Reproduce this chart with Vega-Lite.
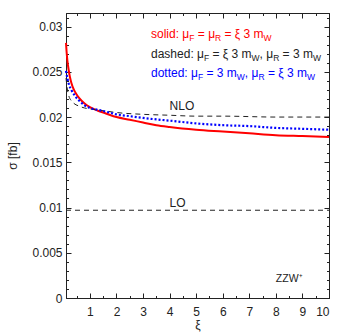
{
  "$schema": "https://vega.github.io/schema/vega-lite/v6.json",
  "width": 263,
  "height": 285,
  "autosize": "none",
  "padding": {"left": 66, "top": 13, "right": 18, "bottom": 37},
  "background": "white",
  "config": {
    "view": {"stroke": "#222", "strokeWidth": 1},
    "axis": {
      "labelFont": "Liberation Sans",
      "titleFont": "Liberation Sans",
      "labelFontSize": 12,
      "titleFontSize": 12,
      "labelColor": "#222",
      "titleColor": "#222",
      "titleFontWeight": "normal",
      "domainColor": "#222",
      "tickColor": "#222",
      "tickWidth": 1,
      "grid": false
    },
    "text": {"font": "Liberation Sans"}
  },
  "datasets": {
    "curves": [
      {"series": "solid", "xi": 0.1, "sigma": 0.0282},
      {"series": "solid", "xi": 0.12, "sigma": 0.0273},
      {"series": "solid", "xi": 0.15, "sigma": 0.0263},
      {"series": "solid", "xi": 0.2, "sigma": 0.0252},
      {"series": "solid", "xi": 0.25, "sigma": 0.0244},
      {"series": "solid", "xi": 0.3, "sigma": 0.0238},
      {"series": "solid", "xi": 0.4, "sigma": 0.0230},
      {"series": "solid", "xi": 0.5, "sigma": 0.0225},
      {"series": "solid", "xi": 0.6, "sigma": 0.0221},
      {"series": "solid", "xi": 0.8, "sigma": 0.0215},
      {"series": "solid", "xi": 1.0, "sigma": 0.0211},
      {"series": "solid", "xi": 1.3, "sigma": 0.0207},
      {"series": "solid", "xi": 1.6, "sigma": 0.0204},
      {"series": "solid", "xi": 2.0, "sigma": 0.0200},
      {"series": "solid", "xi": 2.5, "sigma": 0.0197},
      {"series": "solid", "xi": 3.0, "sigma": 0.0194},
      {"series": "solid", "xi": 3.5, "sigma": 0.0191},
      {"series": "solid", "xi": 4.0, "sigma": 0.0189},
      {"series": "solid", "xi": 5.0, "sigma": 0.0186},
      {"series": "solid", "xi": 6.0, "sigma": 0.0184},
      {"series": "solid", "xi": 7.0, "sigma": 0.0182},
      {"series": "solid", "xi": 8.0, "sigma": 0.0180},
      {"series": "solid", "xi": 9.0, "sigma": 0.0179},
      {"series": "solid", "xi": 10.0, "sigma": 0.0178},
      {"series": "dotted", "xi": 0.1, "sigma": 0.0251},
      {"series": "dotted", "xi": 0.15, "sigma": 0.0243},
      {"series": "dotted", "xi": 0.2, "sigma": 0.0237},
      {"series": "dotted", "xi": 0.3, "sigma": 0.0230},
      {"series": "dotted", "xi": 0.4, "sigma": 0.0225},
      {"series": "dotted", "xi": 0.5, "sigma": 0.0221},
      {"series": "dotted", "xi": 0.6, "sigma": 0.0218},
      {"series": "dotted", "xi": 0.8, "sigma": 0.0213},
      {"series": "dotted", "xi": 1.0, "sigma": 0.0210},
      {"series": "dotted", "xi": 1.3, "sigma": 0.0208},
      {"series": "dotted", "xi": 1.6, "sigma": 0.0206},
      {"series": "dotted", "xi": 2.0, "sigma": 0.0203},
      {"series": "dotted", "xi": 2.5, "sigma": 0.0201},
      {"series": "dotted", "xi": 3.0, "sigma": 0.0199},
      {"series": "dotted", "xi": 4.0, "sigma": 0.0196},
      {"series": "dotted", "xi": 5.0, "sigma": 0.0193},
      {"series": "dotted", "xi": 6.0, "sigma": 0.0191},
      {"series": "dotted", "xi": 7.0, "sigma": 0.0190},
      {"series": "dotted", "xi": 8.0, "sigma": 0.0188},
      {"series": "dotted", "xi": 9.0, "sigma": 0.0187},
      {"series": "dotted", "xi": 10.0, "sigma": 0.0186},
      {"series": "dashed", "xi": 0.1, "sigma": 0.0243},
      {"series": "dashed", "xi": 0.15, "sigma": 0.0231},
      {"series": "dashed", "xi": 0.2, "sigma": 0.0224},
      {"series": "dashed", "xi": 0.3, "sigma": 0.0218},
      {"series": "dashed", "xi": 0.4, "sigma": 0.0215},
      {"series": "dashed", "xi": 0.6, "sigma": 0.0212},
      {"series": "dashed", "xi": 0.8, "sigma": 0.0210},
      {"series": "dashed", "xi": 1.0, "sigma": 0.0209},
      {"series": "dashed", "xi": 1.5, "sigma": 0.0207},
      {"series": "dashed", "xi": 2.0, "sigma": 0.0205},
      {"series": "dashed", "xi": 3.0, "sigma": 0.0203},
      {"series": "dashed", "xi": 4.0, "sigma": 0.0202},
      {"series": "dashed", "xi": 5.0, "sigma": 0.0201},
      {"series": "dashed", "xi": 6.0, "sigma": 0.0201},
      {"series": "dashed", "xi": 8.0, "sigma": 0.0200},
      {"series": "dashed", "xi": 10.0, "sigma": 0.0200},
      {"series": "LO", "xi": 0.1, "sigma": 0.0097},
      {"series": "LO", "xi": 10.0, "sigma": 0.0097}
    ],
    "legend": [
      {"line": "solid", "kind": "m", "text": "solid: μ", "xi": 3.300, "sigma": 0.0287},
      {"line": "solid", "kind": "s", "text": "F", "xi": 4.740, "sigma": 0.0287},
      {"line": "solid", "kind": "m", "text": "= μ", "xi": 5.061, "sigma": 0.0287},
      {"line": "solid", "kind": "s", "text": "R", "xi": 5.710, "sigma": 0.0287},
      {"line": "solid", "kind": "m", "text": "= ξ 3 m", "xi": 6.067, "sigma": 0.0287},
      {"line": "solid", "kind": "s", "text": "W", "xi": 7.537, "sigma": 0.0287},
      {"line": "dashed", "kind": "m", "text": "dashed: μ", "xi": 3.300, "sigma": 0.02658},
      {"line": "dashed", "kind": "s", "text": "F", "xi": 5.292, "sigma": 0.02658},
      {"line": "dashed", "kind": "m", "text": "= ξ 3 m", "xi": 5.614, "sigma": 0.02658},
      {"line": "dashed", "kind": "s", "text": "W", "xi": 7.084, "sigma": 0.02658},
      {"line": "dashed", "kind": "m", "text": ", μ", "xi": 7.385, "sigma": 0.02658},
      {"line": "dashed", "kind": "s", "text": "R", "xi": 7.897, "sigma": 0.02658},
      {"line": "dashed", "kind": "m", "text": "= 3 m", "xi": 8.254, "sigma": 0.02658},
      {"line": "dashed", "kind": "s", "text": "W", "xi": 9.395, "sigma": 0.02658},
      {"line": "dotted", "kind": "m", "text": "dotted: μ", "xi": 3.300, "sigma": 0.02446},
      {"line": "dotted", "kind": "s", "text": "F", "xi": 5.067, "sigma": 0.02446},
      {"line": "dotted", "kind": "m", "text": "= 3 m", "xi": 5.388, "sigma": 0.02446},
      {"line": "dotted", "kind": "s", "text": "W", "xi": 6.530, "sigma": 0.02446},
      {"line": "dotted", "kind": "m", "text": ", μ", "xi": 6.831, "sigma": 0.02446},
      {"line": "dotted", "kind": "s", "text": "R", "xi": 7.343, "sigma": 0.02446},
      {"line": "dotted", "kind": "m", "text": "= ξ 3 m", "xi": 7.700, "sigma": 0.02446},
      {"line": "dotted", "kind": "s", "text": "W", "xi": 9.169, "sigma": 0.02446}
    ],
    "notes": [
      {"text": "NLO", "xi": 4.0, "sigma": 0.0208, "size": "big"},
      {"text": "LO", "xi": 4.0, "sigma": 0.0101, "size": "big"},
      {"text": "ZZW⁺", "xi": 8.0, "sigma": 0.0018, "size": "small"}
    ]
  },
  "resolve": {"axis": {"x": "independent", "y": "independent"}},
  "layer": [
    {
      "data": {"name": "curves"},
      "transform": [{"filter": "datum.series === 'solid'"}],
      "mark": {"type": "line", "color": "#ff0000", "strokeWidth": 2, "interpolate": "monotone"},
      "encoding": {
        "x": {"field": "xi", "type": "quantitative", "scale": {"domain": [0.1, 10], "nice": false},
          "axis": {"orient": "bottom", "values": [1, 2, 3, 4, 5, 6, 7, 8, 9, 10], "format": "d", "tickSize": -5, "labelPadding": 13, "title": "ξ", "titlePadding": 2}},
        "y": {"field": "sigma", "type": "quantitative", "scale": {"domain": [0, 0.0315], "nice": false, "zero": false},
          "axis": {"orient": "left", "values": [0, 0.005, 0.01, 0.015, 0.02, 0.025, 0.03], "format": ".3~f", "tickSize": -5, "labelPadding": 9, "title": "σ [fb]", "titlePadding": 12}}
      }
    },
    {
      "data": {"name": "curves"},
      "transform": [{"filter": "datum.series === 'dashed'"}],
      "mark": {"type": "line", "color": "#222", "strokeWidth": 1, "strokeDash": [5, 4], "interpolate": "monotone"},
      "encoding": {
        "x": {"field": "xi", "type": "quantitative",
          "axis": {"orient": "top", "values": [1, 2, 3, 4, 5, 6, 7, 8, 9, 10], "labels": false, "tickSize": -5, "title": null}},
        "y": {"field": "sigma", "type": "quantitative",
          "axis": {"orient": "right", "values": [0, 0.005, 0.01, 0.015, 0.02, 0.025, 0.03], "labels": false, "tickSize": -5, "title": null}}
      }
    },
    {
      "data": {"name": "curves"},
      "transform": [{"filter": "datum.series === 'dotted'"}],
      "mark": {"type": "line", "color": "#0000ff", "strokeWidth": 2.2, "strokeDash": [2, 2], "interpolate": "monotone"},
      "encoding": {
        "x": {"field": "xi", "type": "quantitative",
          "axis": {"orient": "bottom", "values": [0.5, 1.5, 2.5, 3.5, 4.5, 5.5, 6.5, 7.5, 8.5, 9.5], "labels": false, "domain": false, "tickSize": -2.5, "title": null}},
        "y": {"field": "sigma", "type": "quantitative",
          "axis": {"orient": "left", "values": [0.001, 0.002, 0.003, 0.004, 0.006, 0.007, 0.008, 0.009, 0.011, 0.012, 0.013, 0.014, 0.016, 0.017, 0.018, 0.019, 0.021, 0.022, 0.023, 0.024, 0.026, 0.027, 0.028, 0.029, 0.031], "labels": false, "domain": false, "tickSize": -2.5, "title": null}}
      }
    },
    {
      "data": {"name": "curves"},
      "transform": [{"filter": "datum.series === 'LO'"}],
      "mark": {"type": "line", "color": "#222", "strokeWidth": 1, "strokeDash": [5, 4]},
      "encoding": {
        "x": {"field": "xi", "type": "quantitative",
          "axis": {"orient": "top", "values": [0.5, 1.5, 2.5, 3.5, 4.5, 5.5, 6.5, 7.5, 8.5, 9.5], "labels": false, "domain": false, "tickSize": -2.5, "title": null}},
        "y": {"field": "sigma", "type": "quantitative",
          "axis": {"orient": "right", "values": [0.001, 0.002, 0.003, 0.004, 0.006, 0.007, 0.008, 0.009, 0.011, 0.012, 0.013, 0.014, 0.016, 0.017, 0.018, 0.019, 0.021, 0.022, 0.023, 0.024, 0.026, 0.027, 0.028, 0.029, 0.031], "labels": false, "domain": false, "tickSize": -2.5, "title": null}}
      }
    },
    {
      "data": {"name": "legend"},
      "transform": [{"filter": "datum.kind === 'm'"}],
      "mark": {"type": "text", "align": "left", "baseline": "alphabetic", "fontSize": 12},
      "encoding": {
        "x": {"field": "xi", "type": "quantitative", "axis": null},
        "y": {"field": "sigma", "type": "quantitative", "axis": null},
        "text": {"field": "text"},
        "color": {"field": "line", "type": "nominal", "scale": {"domain": ["solid", "dashed", "dotted"], "range": ["#ff0000", "#222222", "#0000ff"]}, "legend": null}
      }
    },
    {
      "data": {"name": "legend"},
      "transform": [{"filter": "datum.kind === 's'"}],
      "mark": {"type": "text", "align": "left", "baseline": "alphabetic", "fontSize": 8.5, "dy": 3},
      "encoding": {
        "x": {"field": "xi", "type": "quantitative", "axis": null},
        "y": {"field": "sigma", "type": "quantitative", "axis": null},
        "text": {"field": "text"},
        "color": {"field": "line", "type": "nominal", "legend": null}
      }
    },
    {
      "data": {"name": "notes"},
      "transform": [{"filter": "datum.size === 'big'"}],
      "mark": {"type": "text", "align": "left", "baseline": "alphabetic", "fontSize": 12, "color": "#222"},
      "encoding": {
        "x": {"field": "xi", "type": "quantitative", "axis": null},
        "y": {"field": "sigma", "type": "quantitative", "axis": null},
        "text": {"field": "text"}
      }
    },
    {
      "data": {"name": "notes"},
      "transform": [{"filter": "datum.size === 'small'"}],
      "mark": {"type": "text", "align": "left", "baseline": "alphabetic", "fontSize": 10.5, "color": "#222"},
      "encoding": {
        "x": {"field": "xi", "type": "quantitative", "axis": null},
        "y": {"field": "sigma", "type": "quantitative", "axis": null},
        "text": {"field": "text"}
      }
    }
  ]
}
